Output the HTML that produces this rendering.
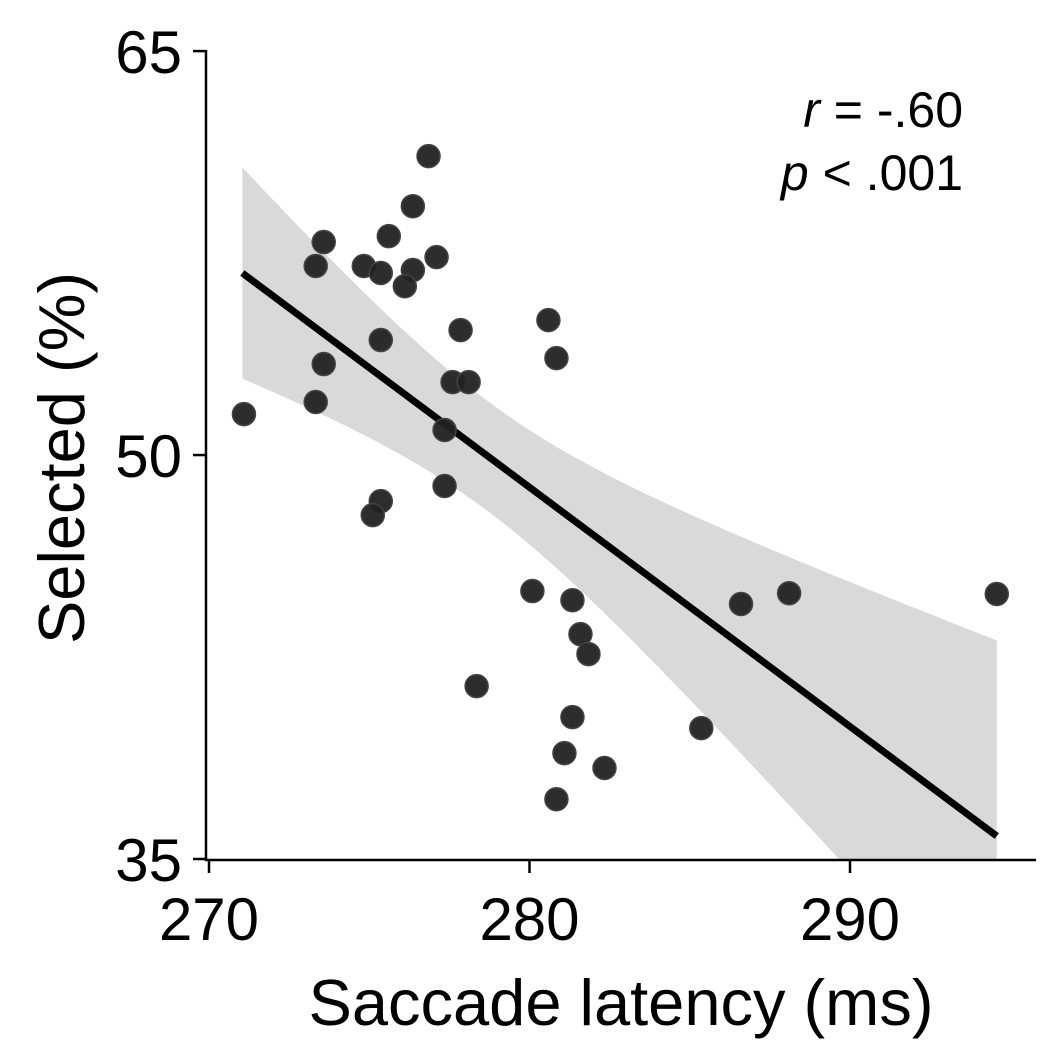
<!DOCTYPE html>
<html><head><meta charset="utf-8"><style>
html,body{margin:0;padding:0;background:#fff;}
svg{display:block;font-family:"Liberation Sans",sans-serif;}
</style></head><body>
<svg id="chart" width="1062" height="1064" viewBox="0 0 1062 1064" xmlns="http://www.w3.org/2000/svg">
<g id="band"></g>
<g id="line"></g>
<g id="pts"></g>
<g id="axes"></g>
<text x="621" y="1025" font-size="65" text-anchor="middle">Saccade latency (ms)</text>
<text transform="translate(84,458) rotate(-90)" font-size="65" text-anchor="middle">Selected (%)</text>
<text x="963" y="127" font-size="50" text-anchor="end"><tspan font-style="italic">r</tspan> = -.60</text>
<text x="963" y="190" font-size="50" text-anchor="end"><tspan font-style="italic">p</tspan> &lt; .001</text>
</svg>
<script>
const xVals=[271.09,273.33,273.58,273.33,273.58,274.83,275.36,275.61,276.36,276.36,276.11,275.36,276.85,277.10,277.85,277.60,278.10,277.35,277.35,275.36,275.11,280.59,280.84,280.09,281.34,281.59,281.84,278.35,281.34,281.09,280.84,282.34,285.36,286.60,288.10,294.58];
const yVals=[51.52,57.02,57.91,51.97,53.38,57.02,56.76,58.13,59.24,56.87,56.27,54.27,61.10,57.35,54.64,52.71,52.71,50.93,48.85,48.29,47.77,55.01,53.60,44.95,44.61,43.35,42.61,41.42,40.27,38.93,37.22,38.38,39.86,44.47,44.87,44.84];
const xTicks=[270,280,290];
const yTicks=[35,50,65];
const NS="http://www.w3.org/2000/svg";
const X=v=>209+(v-270)*32.05;
const Y=v=>859-(v-35)*26.93;
function mk(tag,attrs,parent){const e=document.createElementNS(NS,tag);for(const k in attrs)e.setAttribute(k,attrs[k]);parent.appendChild(e);return e;}
const n=xVals.length;
const mx=xVals.reduce((a,b)=>a+b)/n,my=yVals.reduce((a,b)=>a+b)/n;
let sxx=0,sxy=0;for(let i=0;i<n;i++){sxx+=(xVals[i]-mx)**2;sxy+=(xVals[i]-mx)*(yVals[i]-my);}
const b=sxy/sxx,a=my-b*mx;
let sse=0;for(let i=0;i<n;i++)sse+=(yVals[i]-a-b*xVals[i])**2;
const s=Math.sqrt(sse/(n-2)),t=2.2;
const x0=Math.min(...xVals)-0.05,x1=Math.max(...xVals);
const clip=mk('clipPath',{id:'plotclip'},document.getElementById('chart'));
mk('rect',{x:207,y:0,width:900,height:859},clip);
let up=[],lo=[];
for(let k=0;k<=60;k++){const x=x0+(x1-x0)*k/60;const se=s*Math.sqrt(1/n+(x-mx)**2/sxx);const yh=a+b*x;up.push(X(x)+','+Y(yh+t*se));lo.unshift(X(x)+','+Y(yh-t*se));}
const band=document.getElementById('band');band.setAttribute('clip-path','url(#plotclip)');
const bp=mk('polygon',{points:up.concat(lo).join(' '),fill:'#d9d9d9'},band);


const ln=mk('line',{x1:X(x0),y1:Y(a+b*x0),x2:X(x1),y2:Y(a+b*x1),stroke:'#000','stroke-width':7},document.getElementById('line'));


const pts=document.getElementById('pts');
for(let i=0;i<n;i++){const c=mk('circle',{cx:X(xVals[i]),cy:Y(yVals[i]),r:11.5,fill:'#222',stroke:'#444','stroke-width':1.5,'fill-opacity':0.95},pts);

}
const ax=document.getElementById('axes');
mk('line',{x1:206,y1:50,x2:206,y2:861,stroke:'#000','stroke-width':2.5},ax);
mk('line',{x1:205,y1:860,x2:1036,y2:860,stroke:'#000','stroke-width':2.5},ax);
xTicks.forEach(v=>{mk('line',{x1:X(v),y1:860,x2:X(v),y2:873,stroke:'#000','stroke-width':2.5},ax);
const tx=mk('text',{x:X(v),y:940,'font-size':60,'text-anchor':'middle'},ax);tx.textContent=v;

});
yTicks.forEach(v=>{mk('line',{x1:193,y1:Y(v),x2:206,y2:Y(v),stroke:'#000','stroke-width':2.5},ax);
const tx=mk('text',{x:182,y:Y(v)+22,'font-size':60,'text-anchor':'end'},ax);tx.textContent=v;

});
</script>
</body></html>
